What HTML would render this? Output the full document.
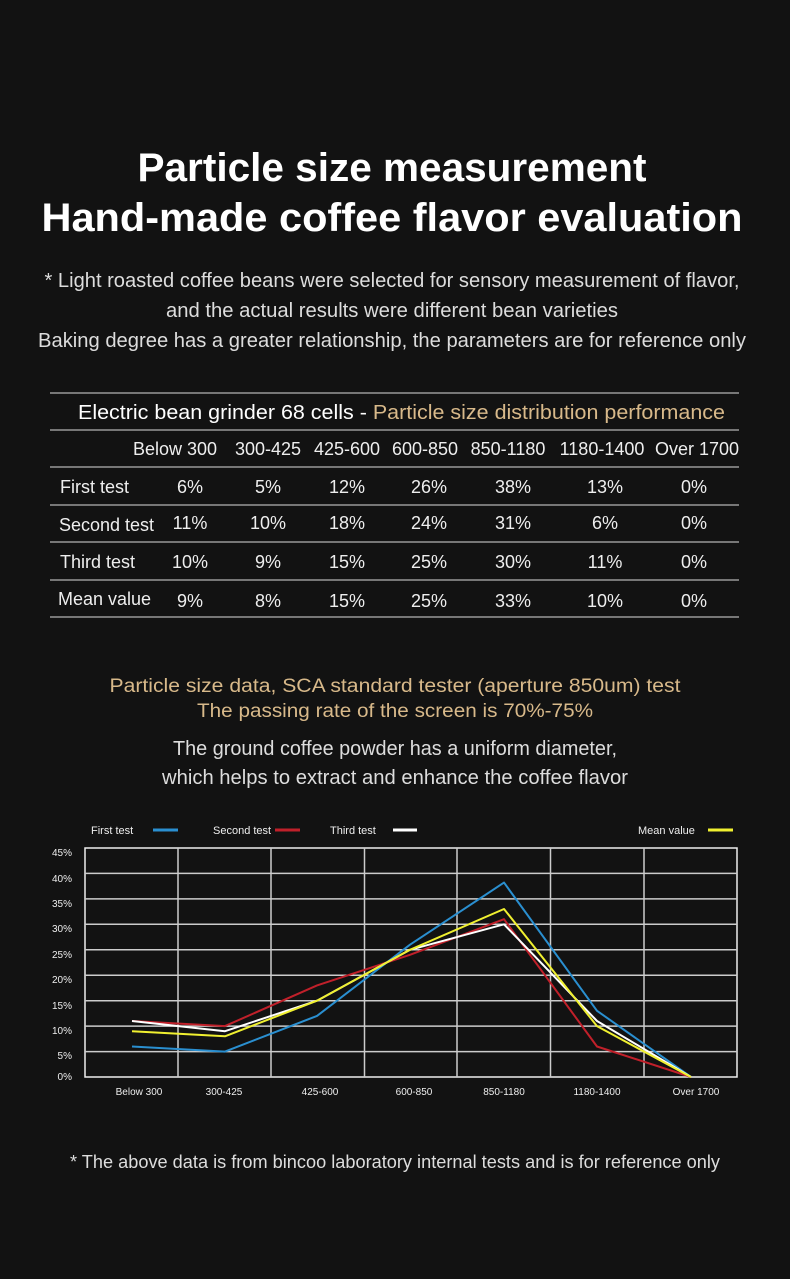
<!DOCTYPE html>
<html><head><meta charset="utf-8"><style>
html,body{margin:0;padding:0;background:#121212;}
svg{display:block;font-family:"Liberation Sans",sans-serif;}
</style></head><body>
<svg width="790" height="1279" viewBox="0 0 790 1279" xmlns="http://www.w3.org/2000/svg">
<rect width="790" height="1279" fill="#121212"/>
<g fill="#fff" font-weight="bold" font-size="40" text-anchor="middle">
<text x="392" y="181" textLength="509" lengthAdjust="spacingAndGlyphs">Particle size measurement</text>
<text x="392" y="231" textLength="701" lengthAdjust="spacingAndGlyphs">Hand-made coffee flavor evaluation</text>
</g>
<g fill="#ddd" font-size="20" text-anchor="middle">
<text x="392" y="287" textLength="695" lengthAdjust="spacingAndGlyphs">* Light roasted coffee beans were selected for sensory measurement of flavor,</text>
<text x="392" y="317" textLength="452" lengthAdjust="spacingAndGlyphs">and the actual results were different bean varieties</text>
<text x="392" y="347" textLength="708" lengthAdjust="spacingAndGlyphs">Baking degree has a greater relationship, the parameters are for reference only</text>
</g>
<g stroke="#777" stroke-width="2">
<line x1="50" y1="393" x2="739" y2="393"/><line x1="50" y1="430" x2="739" y2="430"/>
<line x1="50" y1="467" x2="739" y2="467"/><line x1="50" y1="505" x2="739" y2="505"/>
<line x1="50" y1="542" x2="739" y2="542"/><line x1="50" y1="580" x2="739" y2="580"/>
<line x1="50" y1="617" x2="739" y2="617"/>
</g>
<text x="78" y="419" font-size="20" fill="#fff" textLength="647" lengthAdjust="spacingAndGlyphs">Electric bean grinder 68 cells - <tspan fill="#d8b98a">Particle size distribution performance</tspan></text>
<g fill="#eee" font-size="18" text-anchor="middle">
<text x="175" y="455">Below 300</text><text x="268" y="455">300-425</text><text x="347" y="455">425-600</text><text x="425" y="455">600-850</text><text x="508" y="455">850-1180</text><text x="602" y="455">1180-1400</text><text x="697" y="455">Over 1700</text>
</g>
<g fill="#eee" font-size="18">
<text x="60" y="493">First test</text><text x="59" y="531">Second test</text><text x="60" y="568">Third test</text><text x="58" y="605">Mean value</text>
</g>
<g fill="#eee" font-size="18" text-anchor="middle">
<text x="190" y="493">6%</text><text x="268" y="493">5%</text><text x="347" y="493">12%</text><text x="429" y="493">26%</text><text x="513" y="493">38%</text><text x="605" y="493">13%</text><text x="694" y="493">0%</text>
<text x="190" y="529">11%</text><text x="268" y="529">10%</text><text x="347" y="529">18%</text><text x="429" y="529">24%</text><text x="513" y="529">31%</text><text x="605" y="529">6%</text><text x="694" y="529">0%</text>
<text x="190" y="568">10%</text><text x="268" y="568">9%</text><text x="347" y="568">15%</text><text x="429" y="568">25%</text><text x="513" y="568">30%</text><text x="605" y="568">11%</text><text x="694" y="568">0%</text>
<text x="190" y="607">9%</text><text x="268" y="607">8%</text><text x="347" y="607">15%</text><text x="429" y="607">25%</text><text x="513" y="607">33%</text><text x="605" y="607">10%</text><text x="694" y="607">0%</text>
</g>
<g fill="#d8b98a" font-size="19" text-anchor="middle">
<text x="395" y="692" textLength="571" lengthAdjust="spacingAndGlyphs">Particle size data, SCA standard tester (aperture 850um) test</text>
<text x="395" y="717" textLength="396" lengthAdjust="spacingAndGlyphs">The passing rate of the screen is 70%-75%</text>
</g>
<g fill="#ddd" font-size="20" text-anchor="middle">
<text x="395" y="755" textLength="444" lengthAdjust="spacingAndGlyphs">The ground coffee powder has a uniform diameter,</text>
<text x="395" y="784" textLength="466" lengthAdjust="spacingAndGlyphs">which helps to extract and enhance the coffee flavor</text>
</g>
<g fill="#eee" font-size="11">
<text x="91" y="834">First test</text><text x="213" y="834">Second test</text><text x="330" y="834">Third test</text><text x="638" y="834">Mean value</text>
</g>
<g stroke-width="3">
<line x1="153" y1="830" x2="178" y2="830" stroke="#2a8fd0"/>
<line x1="275" y1="830" x2="300" y2="830" stroke="#c0202a"/>
<line x1="393" y1="830" x2="417" y2="830" stroke="#fff"/>
<line x1="708" y1="830" x2="733" y2="830" stroke="#f0f030"/>
</g>
<g stroke="#ccc" stroke-width="1.5" fill="none">
<rect x="85" y="848" width="652" height="229" stroke="#eee"/>
<line x1="85" y1="873.4" x2="737" y2="873.4"/><line x1="85" y1="898.9" x2="737" y2="898.9"/>
<line x1="85" y1="924.3" x2="737" y2="924.3"/><line x1="85" y1="949.8" x2="737" y2="949.8"/>
<line x1="85" y1="975.2" x2="737" y2="975.2"/><line x1="85" y1="1000.7" x2="737" y2="1000.7"/>
<line x1="85" y1="1026.1" x2="737" y2="1026.1"/><line x1="85" y1="1051.6" x2="737" y2="1051.6"/>
<line x1="178" y1="848" x2="178" y2="1077"/><line x1="271" y1="848" x2="271" y2="1077"/>
<line x1="364.5" y1="848" x2="364.5" y2="1077"/><line x1="457" y1="848" x2="457" y2="1077"/>
<line x1="550.5" y1="848" x2="550.5" y2="1077"/><line x1="644" y1="848" x2="644" y2="1077"/>
</g>
<g fill="#eee" font-size="10" text-anchor="end">
<text x="72" y="856">45%</text><text x="72" y="882">40%</text><text x="72" y="907">35%</text><text x="72" y="932">30%</text><text x="72" y="958">25%</text><text x="72" y="983">20%</text><text x="72" y="1009">15%</text><text x="72" y="1034">10%</text><text x="72" y="1059">5%</text><text x="72" y="1080">0%</text>
</g>
<g fill="#eee" font-size="10" text-anchor="middle">
<text x="139" y="1095">Below 300</text><text x="224" y="1095">300-425</text><text x="320" y="1095">425-600</text><text x="414" y="1095">600-850</text><text x="504" y="1095">850-1180</text><text x="597" y="1095">1180-1400</text><text x="696" y="1095">Over 1700</text>
</g>
<g fill="none" stroke-width="2" stroke-linejoin="round">
<polyline stroke="#2a8fd0" points="132,1046.5 225,1051.6 317,1015.9 410,944.7 504,882.6 597,1010.8 691,1077"/>
<polyline stroke="#c0202a" points="132,1021 225,1026.1 317,985.4 410,954.8 504,919.2 597,1046.5 691,1077"/>
<polyline stroke="#fff" points="132,1021 225,1031.2 317,1000.7 410,949.8 504,924.3 597,1021 691,1077"/>
<polyline stroke="#f0f030" points="132,1031.2 225,1036.3 317,1000.7 410,949.8 504,909 597,1026.1 691,1077"/>
</g>
<text x="395" y="1168" fill="#ddd" font-size="18" text-anchor="middle" textLength="650" lengthAdjust="spacingAndGlyphs">* The above data is from bincoo laboratory internal tests and is for reference only</text>
</svg>
</body></html>
